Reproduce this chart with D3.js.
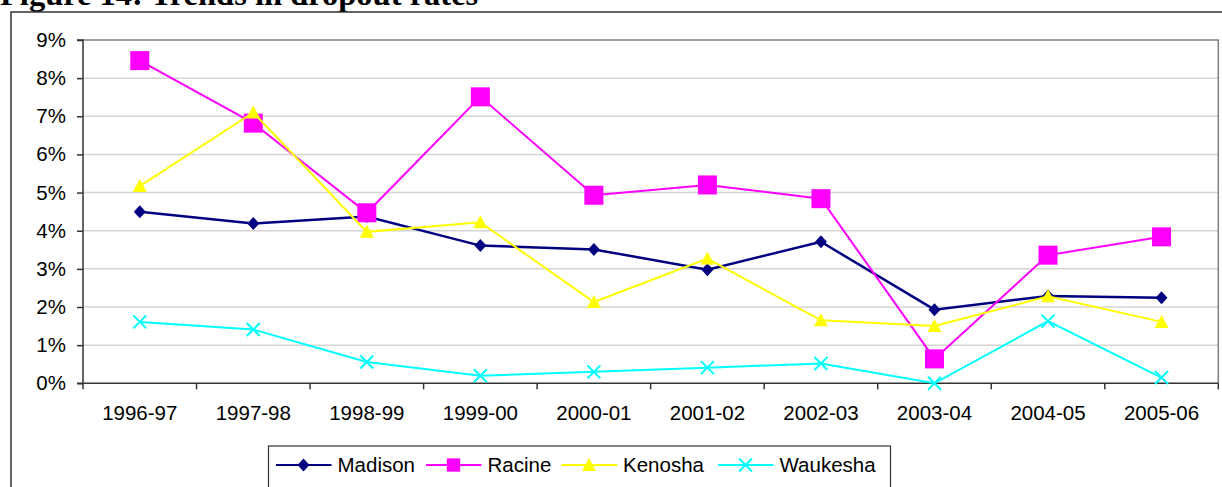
<!DOCTYPE html>
<html>
<head>
<meta charset="utf-8">
<script src="https://cdn.jsdelivr.net/npm/d3@7"></script>
<style>
  body { margin: 0; background: #fff; }
  svg { display: block; }
</style>
</head>
<body>
<script>
// chart data
var years = ["1996-97", "1997-98", "1998-99", "1999-00", "2000-01", "2001-02", "2002-03", "2003-04", "2004-05", "2005-06"];
var madison  = [4.50, 4.19, 4.37, 3.61, 3.51, 2.98, 3.71, 1.93, 2.29, 2.24];
var racine   = [8.46, 6.82, 4.47, 7.51, 4.93, 5.20, 4.84, 0.64, 3.36, 3.84];
var kenosha  = [5.17, 7.10, 3.97, 4.22, 2.13, 3.27, 1.65, 1.50, 2.28, 1.61];
var waukesha = [1.61, 1.41, 0.56, 0.20, 0.30, 0.41, 0.52, 0.00, 1.63, 0.15];
var yTicks = [0, 1, 2, 3, 4, 5, 6, 7, 8, 9];

var series = [
  {name: "Madison",  values: madison,  color: "#000080", shape: "diamond"},
  {name: "Racine",   values: racine,   color: "#ff00ff", shape: "square"},
  {name: "Kenosha",  values: kenosha,  color: "#ffff00", shape: "triangle"},
  {name: "Waukesha", values: waukesha, color: "#00ffff", shape: "cross"}
];

var width = 1222,
    height = 487;

var svg = d3.select("body").append("svg")
    .attr("width", width)
    .attr("height", height);

// title, cut off at the top like the scan
svg.append("text")
    .attr("x", 0)
    .attr("y", 5)
    .attr("font-family", "Liberation Serif, Times New Roman, serif")
    .attr("font-weight", "bold")
    .attr("font-size", "32.5px")
    .attr("fill", "#000")
    .text("Figure 14: Trends in dropout rates");

// outer chart frame
svg.append("rect")
    .attr("x", 11)
    .attr("y", 12)
    .attr("width", 1230)
    .attr("height", 500)
    .attr("fill", "none")
    .attr("stroke", "#333")
    .attr("stroke-width", 1.5);

var plotL = 83, plotR = 1218.3, plotT = 40, plotB = 383.3;

var x = d3.scaleBand()
    .domain(years)
    .range([plotL, plotR])
    .padding(0);

var y = d3.scaleLinear()
    .domain([0, 9])
    .range([plotB, plotT]);

function cx(i) { return x(years[i]) + x.bandwidth() / 2; }

// gridlines
svg.append("g")
    .selectAll("line")
    .data(yTicks.filter(function(d) { return d > 0 && d < 9; }))
    .enter().append("line")
    .attr("x1", plotL)
    .attr("x2", plotR)
    .attr("y1", function(d) { return y(d); })
    .attr("y2", function(d) { return y(d); })
    .attr("stroke", "#d4d4d4")
    .attr("stroke-width", 1.5);

// plot area border (top and right gray)
svg.append("path")
    .attr("d", "M" + plotL + "," + plotT + "H" + plotR + "V" + plotB)
    .attr("fill", "none")
    .attr("stroke", "#808080")
    .attr("stroke-width", 1.5);

// y axis
var yAxis = d3.axisLeft(y)
    .tickValues(yTicks)
    .tickSize(6)
    .tickPadding(11)
    .tickFormat(function(d) { return d + "%"; });

var gy = svg.append("g")
    .attr("transform", "translate(" + plotL + ",0)")
    .call(yAxis);

// x axis
var xAxis = d3.axisBottom(x)
    .tickSize(0)
    .tickPadding(22);

var gx = svg.append("g")
    .attr("transform", "translate(0," + plotB + ")")
    .call(xAxis);

// category boundary ticks
gx.selectAll(".bound")
    .data(years.concat(["end"]))
    .enter().append("line")
    .attr("class", "bound")
    .attr("x1", function(d, i) { return i < years.length ? x(d) : plotR; })
    .attr("x2", function(d, i) { return i < years.length ? x(d) : plotR; })
    .attr("y1", 0)
    .attr("y2", 6)
    .attr("stroke", "#333")
    .attr("stroke-width", 1.5);

[gx, gy].forEach(function(g) {
  g.select(".domain").attr("stroke", "#333").attr("stroke-width", 1.5);
  g.selectAll(".tick line").attr("stroke", "#333").attr("stroke-width", 1.5);
  g.selectAll("text")
      .attr("font-family", "Liberation Sans, Arial, sans-serif")
      .attr("font-size", "20.5px")
      .attr("fill", "#000");
});
gx.select(".domain").attr("d", "M" + plotL + ",0H" + plotR);
gy.select(".domain").attr("d", "M-6," + plotT + "H0V" + plotB + "H-6");

// marker drawing
function marker(g, shape, color) {
  if (shape === "diamond") {
    g.append("path").attr("d", "M0,-6.5L6,0L0,6.5L-6,0Z").attr("fill", color);
  } else if (shape === "square") {
    g.append("rect").attr("x", -9.5).attr("y", -9.5).attr("width", 19).attr("height", 19).attr("fill", color);
  } else if (shape === "triangle") {
    g.append("path").attr("d", "M0,-7L7,6L-7,6Z").attr("fill", color);
  } else {
    g.append("path").attr("d", "M-6.5,-6.5L6.5,6.5M-6.5,6.5L6.5,-6.5")
        .attr("stroke", color).attr("stroke-width", 2).attr("fill", "none");
  }
}

var line = d3.line()
    .x(function(d, i) { return cx(i); })
    .y(function(d) { return y(d); });

series.forEach(function(s) {
  var g = svg.append("g");
  g.append("path")
      .attr("d", line(s.values))
      .attr("fill", "none")
      .attr("stroke", s.color)
      .attr("stroke-width", s.shape === "diamond" ? 2.5 : 2);
  g.selectAll(".pt")
      .data(s.values)
      .enter().append("g")
      .attr("class", "pt")
      .attr("transform", function(d, i) { return "translate(" + cx(i) + "," + y(d) + ")"; })
      .each(function() { marker(d3.select(this), s.shape, s.color); });
});

// legend
var legend = svg.append("g");
legend.append("rect")
    .attr("x", 268.5)
    .attr("y", 446)
    .attr("width", 622)
    .attr("height", 60)
    .attr("fill", "#fff")
    .attr("stroke", "#333")
    .attr("stroke-width", 1.2);

var legendX = [276, 426, 561.5, 718];
var legendY = 465;
series.forEach(function(s, i) {
  var g = legend.append("g").attr("transform", "translate(" + legendX[i] + "," + legendY + ")");
  g.append("line")
      .attr("x1", 0).attr("x2", 55.5)
      .attr("stroke", s.color)
      .attr("stroke-width", 2);
  var m = g.append("g").attr("transform", "translate(27.5,0) scale(" + (s.shape === "square" ? 0.7 : 1) + ")");
  marker(m, s.shape, s.color);
  g.append("text")
      .attr("x", 61.5)
      .attr("dy", "0.35em")
      .attr("font-family", "Liberation Sans, Arial, sans-serif")
      .attr("font-size", "20.5px")
      .attr("fill", "#000")
      .text(s.name);
});
</script>
</body>
</html>
